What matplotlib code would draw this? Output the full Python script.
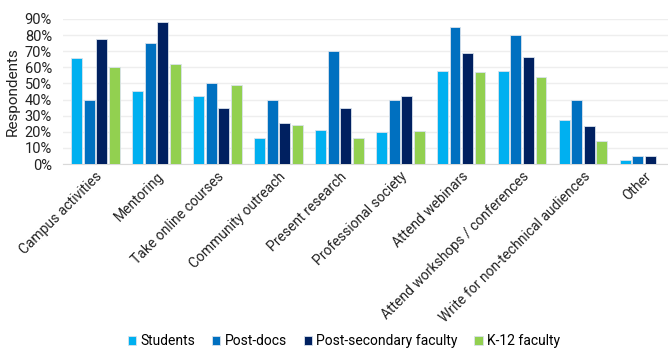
import matplotlib
matplotlib.use("Agg")
from matplotlib import pyplot as plt
from matplotlib.ticker import PercentFormatter
import numpy as np

categories = ["Campus activities", "Mentoring", "Take online courses", "Community outreach",
              "Present research", "Professional society", "Attend webinars",
              "Attend workshops / conferences", "Write for non-technical audiences", "Other"]
series = ["Students", "Post-docs", "Post-secondary faculty", "K-12 faculty"]
students = [66, 45.5, 42, 16, 21, 20, 58, 58, 27.5, 2.3]
post_docs = [40, 75, 50, 40, 70, 40, 85, 80, 40, 5.2]
ps_faculty = [77.5, 88, 34.5, 25.5, 35, 42, 69, 66.7, 23.5, 5.2]
k12_faculty = [60, 62, 49, 24, 16, 20.5, 57, 54, 14.3, 0]
colors = ["#00B0F0", "#0070C0", "#002060", "#92D050"]

plt.rcParams['font.family'] = ['Roboto', 'DejaVu Sans']

fig = plt.figure(figsize=(6.68, 3.48), dpi=100)
ax = fig.add_axes([63 / 668, 1 - 164 / 348, 1 - 63 / 668, (164 - 19) / 348])

x = np.arange(len(categories))
step = 0.205
for i, (name, vals) in enumerate(zip(series, [students, post_docs, ps_faculty, k12_faculty])):
    ax.bar(x + (i - 1.5) * step, vals, width=0.18, color=colors[i], label=name,
           edgecolor="#d9e2ec", linewidth=0.6, zorder=3)

ax.set_xlim(-0.53, 9.39)
ax.set_ylim(0, 90)
ax.set_yticks(range(0, 91, 10))
ax.yaxis.set_major_formatter(PercentFormatter(decimals=0))
ax.grid(axis="y", color="#eeeeee", linewidth=1, zorder=0)
for s in ["top", "right", "left"]:
    ax.spines[s].set_visible(False)
ax.spines["bottom"].set_color("#d9d9d9")
ax.tick_params(axis="y", length=0, labelsize=10.5, colors="#222222", pad=8)
ax.tick_params(axis="x", length=0, colors="#222222", pad=4)
ax.set_xticks(x)
ax.set_xticklabels(categories, rotation=45, ha="right", rotation_mode="anchor", fontsize=10)
ax.set_ylabel("Respondents", fontsize=11, color="#222222")
ax.yaxis.set_label_coords(-0.071, 0.5)

fig.legend(loc="center", bbox_to_anchor=(344 / 668, 1 - 341 / 348), ncol=4, frameon=False,
           fontsize=10, handlelength=0.6, handleheight=0.6, handletextpad=0.3,
           columnspacing=1.2, borderpad=0)

fig.savefig("out.png", dpi=100)
